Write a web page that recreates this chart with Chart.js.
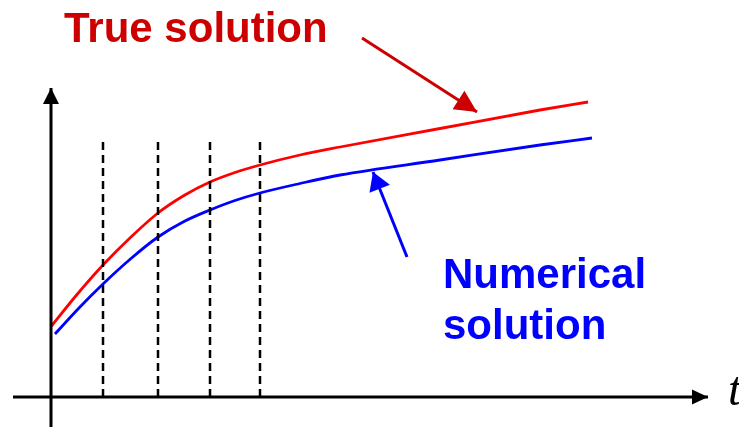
<!DOCTYPE html>
<html>
<head>
<meta charset="utf-8">
<script src="https://cdn.jsdelivr.net/npm/chart.js@4"></script>
<style>
  html, body { margin: 0; padding: 0; background: #ffffff; }
  #wrap { width: 739px; height: 429px; position: relative; }
</style>
</head>
<body>
<div id="wrap"><canvas id="c"></canvas></div>
<script>
// ---- data (t, y in diagram units; origin at the axes' crossing) ----
const T_TRUE   = [0.05, 2.6, 5.2, 8.0, 10.7, 13.3, 15.9, 18.4, 20.9, 24.9, 28.9, 38.9, 48.9, 53.7];
const Y_TRUE   = [7.1, 10.25, 13.2, 16.0, 18.4, 20.15, 21.5, 22.45, 23.2, 24.2, 25.0, 26.85, 28.7, 29.5];
const T_NUM    = [0.4, 2.8, 5.2, 8.0, 10.7, 13.3, 15.9, 18.4, 20.9, 24.9, 28.9, 38.9, 48.9, 54.1];
const Y_NUM    = [6.3, 8.9, 11.3, 13.85, 16.0, 17.55, 18.7, 19.65, 20.4, 21.35, 22.2, 23.7, 25.2, 25.9];
const STEP_T   = [5.2, 10.7, 15.9, 20.9];   // dashed step markers
const STEP_TOP = 25.5;
const X_AXIS   = { t: [-3.8, 65.7], y: [0, 0] };
const Y_AXIS   = { t: [0, 0], y: [-3.0, 30.9] };
const ARROW_TRUE = { t: [31.1, 42.6], y: [35.9, 28.5] };
const ARROW_NUM  = { t: [35.6, 32.2], y: [14.0, 22.5] };
const LABELS = [
  { text: 'True solution', t: 1.3,  y: 35.5, color: '#cc0000', font: 'bold 42px "Liberation Sans", Arial, sans-serif' },
  { text: 'Numerical',     t: 39.2, y: 10.9, color: '#0000ff', font: 'bold 42px "Liberation Sans", Arial, sans-serif' },
  { text: 'solution',      t: 39.2, y: 5.8,  color: '#0000ff', font: 'bold 42px "Liberation Sans", Arial, sans-serif' },
  { text: 't',             t: 67.7, y: -0.8, color: '#000000', font: 'italic 48px "Liberation Serif", "Times New Roman", serif' }
];

const pts = (ts, ys) => ts.map((t, i) => ({ x: t, y: ys[i] }));

const datasets = [];
STEP_T.forEach(t => datasets.push({
  data: [{ x: t, y: 0 }, { x: t, y: STEP_TOP }],
  borderColor: '#000000', borderWidth: 2.5, borderDash: [8, 5], showLine: true
}));
datasets.push({ data: pts(X_AXIS.t, X_AXIS.y), borderColor: '#000000', borderWidth: 3, showLine: true, arrow: { len: 16, half: 7.5, color: '#000000' } });
datasets.push({ data: pts(Y_AXIS.t, Y_AXIS.y), borderColor: '#000000', borderWidth: 3, showLine: true, arrow: { len: 16, half: 8, color: '#000000' } });
datasets.push({ data: pts(T_TRUE, Y_TRUE), borderColor: '#ff0000', borderWidth: 2.8, showLine: true, cubicInterpolationMode: 'monotone' });
datasets.push({ data: pts(T_NUM, Y_NUM), borderColor: '#0000ff', borderWidth: 2.8, showLine: true, cubicInterpolationMode: 'monotone' });
datasets.push({ data: pts(ARROW_TRUE.t, ARROW_TRUE.y), borderColor: '#cc0000', borderWidth: 3, showLine: true, arrow: { len: 22, half: 11, color: '#cc0000' } });
datasets.push({ data: pts(ARROW_NUM.t, ARROW_NUM.y), borderColor: '#0000ff', borderWidth: 3, showLine: true, arrow: { len: 18, half: 11, color: '#0000ff' } });

const decorPlugin = {
  id: 'decor',
  afterDatasetsDraw(chart) {
    const ctx = chart.ctx;
    const xs = chart.scales.x, ys = chart.scales.y;
    ctx.save();
    chart.data.datasets.forEach(ds => {
      if (!ds.arrow) return;
      const n = ds.data.length;
      const a = ds.data[n - 2], b = ds.data[n - 1];
      const x1 = xs.getPixelForValue(a.x), y1 = ys.getPixelForValue(a.y);
      const x2 = xs.getPixelForValue(b.x), y2 = ys.getPixelForValue(b.y);
      const ang = Math.atan2(y2 - y1, x2 - x1);
      const L = ds.arrow.len, H = ds.arrow.half;
      const bx = x2 - L * Math.cos(ang), by = y2 - L * Math.sin(ang);
      ctx.beginPath();
      ctx.moveTo(x2, y2);
      ctx.lineTo(bx - H * Math.sin(ang), by + H * Math.cos(ang));
      ctx.lineTo(bx + H * Math.sin(ang), by - H * Math.cos(ang));
      ctx.closePath();
      ctx.fillStyle = ds.arrow.color;
      ctx.fill();
    });
    LABELS.forEach(l => {
      ctx.font = l.font;
      ctx.fillStyle = l.color;
      ctx.textAlign = 'left';
      ctx.textBaseline = 'alphabetic';
      ctx.fillText(l.text, xs.getPixelForValue(l.t), ys.getPixelForValue(l.y));
    });
    ctx.restore();
  }
};

new Chart(document.getElementById('c'), {
  type: 'scatter',
  data: { datasets },
  options: {
    responsive: true,
    maintainAspectRatio: false,
    animation: false,
    layout: { padding: 0 },
    elements: { point: { radius: 0, hoverRadius: 0 }, line: { borderCapStyle: 'butt' } },
    plugins: { legend: { display: false }, tooltip: { enabled: false } },
    scales: {
      x: { type: 'linear', display: false, min: -5.1, max: 68.8 },
      y: { type: 'linear', display: false, min: -3.2, max: 39.7 }
    }
  },
  plugins: [decorPlugin]
});
</script>
</body>
</html>
